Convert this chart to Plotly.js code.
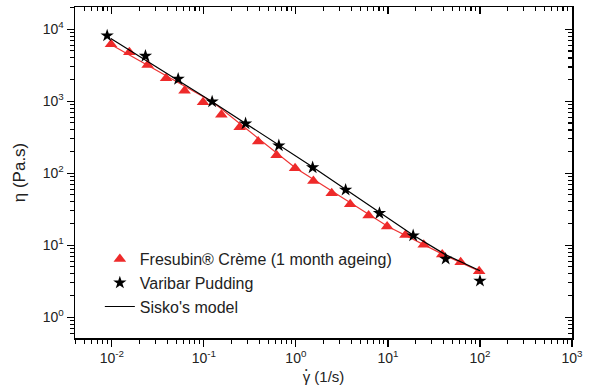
<!DOCTYPE html>
<html>
<head>
<meta charset="utf-8">
<script src="https://cdn.plot.ly/plotly-3.0.1.min.js"></script>
<style>html,body{margin:0;padding:0;background:#fff;}#chart{width:597px;height:392px;}</style>
</head>
<body>
<div id="chart"></div>
<script>
// Fresubin® Crème (1 month ageing) – triangles
const fresubinShear = [0.0098, 0.0155, 0.0245, 0.0389, 0.0617, 0.098, 0.155, 0.245, 0.389, 0.617, 0.98, 1.55, 2.45, 3.89, 6.17, 9.8, 15.5, 24.5, 38.9, 61.7, 98];
const fresubinVisc  = [6190, 4800, 3190, 2085, 1403, 968, 651, 436, 275, 178, 117, 78, 52.7, 36.9, 25.9, 18.2, 13.9, 10.1, 7.45, 5.77, 4.33];
// Varibar Pudding – stars
const varibarShear = [0.0089, 0.0232, 0.0526, 0.123, 0.284, 0.653, 1.52, 3.47, 8.09, 18.8, 42.4, 100];
const varibarVisc  = [8150, 4260, 2040, 986, 489, 242, 120, 58.6, 27.8, 13.6, 6.45, 3.19];
// Sisko's model curves
const siskoBlackShear = [0.00975, 0.122, 1.52, 7.98, 18.7, 41.7, 100];
const siskoBlackVisc  = [7450, 994, 122, 29.0, 13.9, 7.45, 4.42];
const siskoRedShear = [0.00975, 0.126, 1.0, 10.0, 39.6, 100];
const siskoRedVisc  = [6150, 968, 117, 18.2, 7.45, 4.33];
// Tick labels
const xTickVals = [0.01, 0.1, 1, 10, 100, 1000];
const xTickText = ['10<sup>-2</sup>', '10<sup>-1</sup>', '10<sup>0</sup>', '10<sup>1</sup>', '10<sup>2</sup>', '10<sup>3</sup>'];
const yTickVals = [1, 10, 100, 1000, 10000];
const yTickText = ['10<sup>0</sup>', '10<sup>1</sup>', '10<sup>2</sup>', '10<sup>3</sup>', '10<sup>4</sup>'];

const font = 'Liberation Sans, Arial, sans-serif';

const traces = [
  {x: siskoRedShear, y: siskoRedVisc, mode: 'lines', line: {color: '#ee3333', width: 1.2}, showlegend: false, hoverinfo: 'skip'},
  {x: fresubinShear, y: fresubinVisc, mode: 'markers', name: 'Fresubin® Crème (1 month ageing)',
   marker: {symbol: 'triangle-up', size: 11, color: '#ee2a2a'}},
  {x: varibarShear, y: varibarVisc, mode: 'markers', name: 'Varibar Pudding',
   marker: {symbol: 'star', size: 10, color: '#000'}},
  {x: siskoBlackShear, y: siskoBlackVisc, mode: 'lines', name: "Sisko's model", line: {color: '#000', width: 1.2}}
];

const axCommon = {
  type: 'log', showgrid: false, zeroline: false,
  showline: true, linecolor: '#000', linewidth: 1.5,
  ticks: 'outside', ticklen: 7, tickwidth: 1.2, tickcolor: '#000',
  tickmode: 'array',
  tickfont: {family: font, size: 14, color: '#222'},
  minor: {dtick: 'D1', ticks: 'outside', ticklen: 4, tickwidth: 1, tickcolor: '#000', showgrid: false}
};

const layout = {
  width: 597, height: 392,
  margin: {l: 75, r: 25, t: 7, b: 54},
  paper_bgcolor: '#fff', plot_bgcolor: '#fff',
  font: {family: font, color: '#222'},
  xaxis: Object.assign({}, axCommon, {range: [-2.4, 3.0], tickvals: xTickVals, ticktext: xTickText,
    title: {text: 'γ (1/s)', font: {family: font, size: 15, color: '#222'}, standoff: 6}}),
  yaxis: Object.assign({}, axCommon, {range: [-0.29, 4.31], tickvals: yTickVals, ticktext: yTickText,
    title: {text: 'η (Pa.s)', font: {family: font, size: 17, color: '#222'}, standoff: 12}}),
  xaxis2: Object.assign({}, axCommon, {range: [-2.4, 3.0], tickvals: xTickVals, ticktext: xTickText, overlaying: 'x', side: 'top', anchor: 'y',
    showticklabels: false, ticks: 'inside', minor: {dtick: 'D1', ticks: 'inside', ticklen: 4, tickcolor: '#000'}}),
  yaxis2: Object.assign({}, axCommon, {range: [-0.29, 4.31], tickvals: yTickVals, ticktext: yTickText, overlaying: 'y', side: 'right', anchor: 'x',
    showticklabels: false, ticks: 'inside', minor: {dtick: 'D1', ticks: 'inside', ticklen: 4, tickcolor: '#000'}}),
  legend: {x: 0.05, y: 0.29, xanchor: 'left', yanchor: 'top', bgcolor: 'rgba(0,0,0,0)',
    font: {family: font, size: 16, color: '#222'}, tracegroupgap: 0, itemwidth: 30},
  annotations: [
    {text: '•', xref: 'paper', yref: 'paper', x: 0.4655, y: -0.095, xanchor: 'center', yanchor: 'middle',
     showarrow: false, font: {family: font, size: 7, color: '#222'}}
  ],
  showlegend: true
};

traces.push({x: [0.01], y: [1], xaxis: 'x2', yaxis: 'y2', mode: 'markers', marker: {opacity: 0}, showlegend: false, hoverinfo: 'skip'});

Plotly.newPlot('chart', traces, layout, {staticPlot: true, displayModeBar: false});
</script>
</body>
</html>
